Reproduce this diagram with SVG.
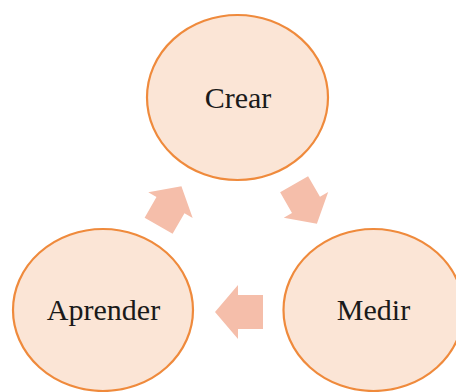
<svg xmlns="http://www.w3.org/2000/svg" width="456" height="392" viewBox="0 0 456 392">
<style>
.node{fill:#FBE5D6;stroke:#EF8A3C;stroke-width:2.2}
.lbl{font-family:"Liberation Serif","Times New Roman",serif;font-size:30px;fill:#1a1a1a;text-anchor:middle}
.arr{fill:#F5BEAA}
</style>
<defs>
<polygon id="blk" points="-24,-17 1,-17 1,-27 24,0 1,27 1,17 -24,17"/>
</defs>
<rect width="456" height="392" fill="#ffffff"/>
<g id="connectors">
<use href="#blk" class="arr" transform="translate(305.5,204) rotate(60) scale(0.95)"/>
<use href="#blk" class="arr" transform="translate(239,312) rotate(180)"/>
<use href="#blk" class="arr" transform="translate(170,206) rotate(-60) scale(0.95)"/>
</g>
<g id="crear">
<ellipse class="node" cx="237.5" cy="97.5" rx="90.5" ry="82.5"/>
<text class="lbl" x="238" y="107.5">Crear</text>
</g>
<g id="medir">
<ellipse class="node" cx="373.5" cy="310" rx="90" ry="81"/>
<text class="lbl" x="373.5" y="320">Medir</text>
</g>
<g id="aprender">
<ellipse class="node" cx="103" cy="310" rx="90" ry="81"/>
<text class="lbl" x="103.5" y="320">Aprender</text>
</g>
</svg>
